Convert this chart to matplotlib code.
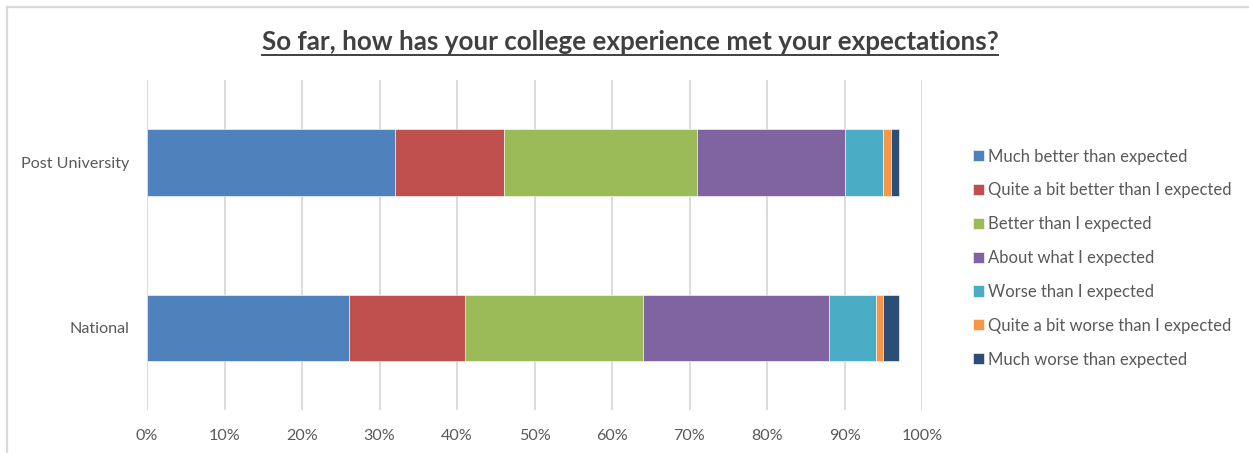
import numpy as np
import matplotlib.pyplot as plt
from matplotlib.lines import Line2D
from matplotlib.ticker import PercentFormatter

# data
groups = ['National', 'Post University']
labels = ['Much better than expected', 'Quite a bit better than I expected',
          'Better than I expected', 'About what I expected',
          'Worse than I expected', 'Quite a bit worse than I expected',
          'Much worse than expected']
national = [26, 15, 23, 24, 6, 1, 2]
post_univ = [32, 14, 25, 19, 5, 1, 1]
colors = ['#4F81BD', '#C0504D', '#9BBB59', '#8064A2', '#4BACC6', '#F79646', '#2C4D75']

plt.rcParams['font.family'] = ['Lato', 'DejaVu Sans']

W, H = 1249, 453
fig = plt.figure(figsize=(W / 100, H / 100), dpi=100)
ax = fig.add_axes([147 / W, (H - 410) / H, 775 / W, 330 / H])

vals = np.array([national, post_univ], dtype=float)
y = np.arange(len(groups))
left = np.zeros(len(groups))
for i, lab in enumerate(labels):
    ax.barh(y, vals[:, i], left=left, height=0.4, color=colors[i],
            edgecolor='#ffffff', linewidth=0.4, label=lab, zorder=3)
    left += vals[:, i]

ax.set_xlim(0, 100)
ax.set_ylim(-0.5, 1.5)
ax.set_xticks(np.arange(0, 101, 10))
ax.xaxis.set_major_formatter(PercentFormatter(decimals=0))
ax.set_yticks(y)
ax.set_yticklabels(groups)
ax.grid(axis='x', color='#D9D9D9', linewidth=1.3, zorder=0)
for s in ax.spines.values():
    s.set_visible(False)
ax.tick_params(axis='both', length=0, labelsize=11.6, colors='#595959')
ax.tick_params(axis='x', pad=14)
ax.tick_params(axis='y', pad=13)

# legend
handles, labs = ax.get_legend_handles_labels()
leg = fig.legend(handles, labs, loc='center left', bbox_to_anchor=(966 / W, (H - 258) / H),
                 frameon=False, fontsize=12, handlelength=0.65, handleheight=0.65,
                 handletextpad=0.3, labelspacing=1.07, borderaxespad=0)
for t in leg.get_texts():
    t.set_color('#595959')

# title with underline
title = fig.text(630 / W, (H - 42) / H, 'So far, how has your college experience met your expectations?',
                 ha='center', va='center', fontsize=18.7, fontweight='bold', color='#404040')
fig.canvas.draw()
bb = title.get_window_extent().transformed(fig.transFigure.inverted())
fig.add_artist(Line2D([bb.x0, bb.x1], [bb.y0 - 0.003, bb.y0 - 0.003],
                      transform=fig.transFigure, color='#404040', linewidth=1.4))

# chart frame (top and left edges visible)
fig.add_artist(Line2D([6.5 / W, 1.0], [(H - 6.5) / H, (H - 6.5) / H],
                      transform=fig.transFigure, color='#D9D9D9', linewidth=1.6))
fig.add_artist(Line2D([6.5 / W, 6.5 / W], [0, (H - 6.5) / H],
                      transform=fig.transFigure, color='#D9D9D9', linewidth=1.6))

fig.savefig('out.png', dpi=100)
